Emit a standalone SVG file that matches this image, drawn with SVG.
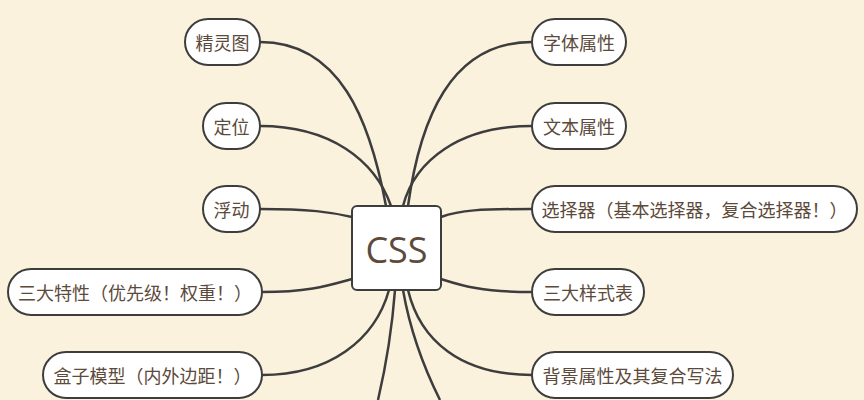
<svg xmlns="http://www.w3.org/2000/svg" width="864" height="400" viewBox="0 0 864 400">
<style>
.n{fill:#fff;stroke:#3d3d3d;stroke-width:2}
.t{font-family:"Noto Sans CJK SC","Liberation Sans",sans-serif;font-size:18px;fill:#5c4a3b;dominant-baseline:central}
#edges path{fill:none;stroke:#3d3d3d;stroke-width:2.5}
</style>
<rect width="864" height="400" fill="#fbf2dd"/>
<g id="edges">
<path d="M260,42 C340,42 370,120 386,206"/>
<path d="M260,126 C330,126 375,160 391,206"/>
<path d="M260,209 C310,209 330,212 352,217"/>
<path d="M262,292 C310,292 330,285 352,279"/>
<path d="M262,375 C330,375 375,340 389,290"/>
<path d="M532,42 C450,42 420,120 408,206"/>
<path d="M532,126 C460,126 415,160 403,206"/>
<path d="M532,209 C480,209 460,210 441,217"/>
<path d="M532,292 C480,292 460,285 441,279"/>
<path d="M532,375 C460,375 420,340 408,290"/>
<path d="M395,290 C392,330 385,370 378,400"/>
<path d="M403,290 C410,330 425,370 440,400"/>
</g>
<g id="center"><rect x="352" y="206" width="89" height="84" rx="5" class="n"/><text x="396.5" y="249" text-anchor="middle" class="t" style="font-size:36px;font-family:'Open Sans','Liberation Sans',sans-serif">CSS</text></g>
<g id="n1"><rect x="185" y="19" width="75" height="46" rx="23" class="n"/><text x="222.5" y="42" text-anchor="middle" class="t">精灵图</text></g>
<g id="n2"><rect x="203" y="103" width="57" height="46" rx="23" class="n"/><text x="231.5" y="126" text-anchor="middle" class="t">定位</text></g>
<g id="n3"><rect x="203" y="186" width="57" height="46" rx="23" class="n"/><text x="231.5" y="209" text-anchor="middle" class="t">浮动</text></g>
<g id="n4"><rect x="8" y="269" width="254" height="46" rx="23" class="n"/><text x="135" y="292" text-anchor="middle" class="t">三大特性（优先级！权重！）</text></g>
<g id="n5"><rect x="43" y="352" width="219" height="46" rx="23" class="n"/><text x="152.5" y="375" text-anchor="middle" class="t">盒子模型（内外边距！）</text></g>
<g id="n6"><rect x="532" y="19" width="94" height="46" rx="23" class="n"/><text x="579" y="42" text-anchor="middle" class="t">字体属性</text></g>
<g id="n7"><rect x="532" y="103" width="94" height="46" rx="23" class="n"/><text x="579" y="126" text-anchor="middle" class="t">文本属性</text></g>
<g id="n8"><rect x="532" y="186" width="325" height="46" rx="23" class="n"/><text x="694.5" y="209" text-anchor="middle" class="t">选择器（基本选择器，复合选择器！）</text></g>
<g id="n9"><rect x="532" y="269" width="112" height="46" rx="23" class="n"/><text x="588" y="292" text-anchor="middle" class="t">三大样式表</text></g>
<g id="n10"><rect x="532" y="352" width="201" height="46" rx="23" class="n"/><text x="632.5" y="375" text-anchor="middle" class="t">背景属性及其复合写法</text></g>
</svg>
